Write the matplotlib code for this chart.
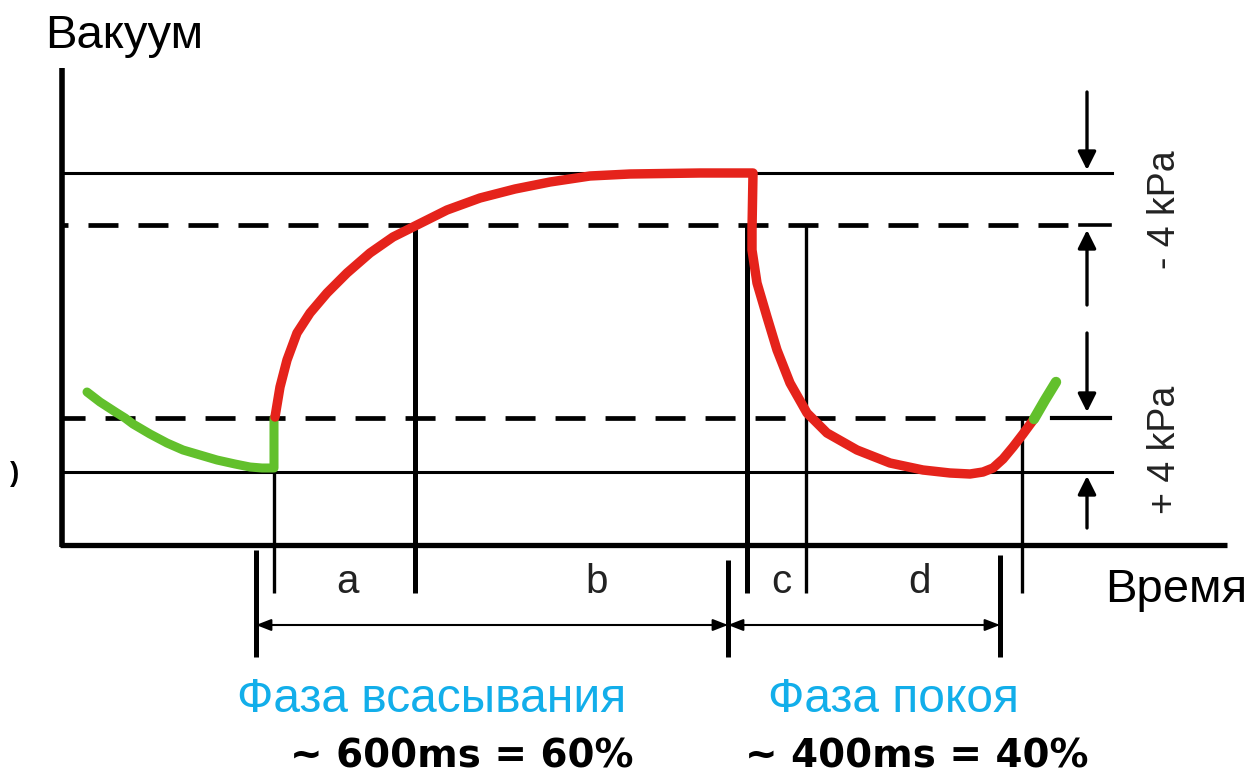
import matplotlib.pyplot as plt

plt.rcParams['lines.scale_dashes'] = False
plt.rcParams['font.family'] = ['Liberation Sans', 'DejaVu Sans']

# diagram units (x = time, y = vacuum level, drawn top-down)
axis_x0, axis_y0 = 62, 545
axis_top, axis_right = 68, 1227

level_max = 173      # solid top line
level_hi = 225       # dashed, -4 kPa
level_lo = 418       # dashed, +4 kPa
level_min = 472      # solid bottom line

# green start (end of previous rest phase)
green_in_x = [87, 100, 117, 125, 133, 150, 167, 183, 200, 217, 235, 250, 262, 274, 274]
green_in_y = [392, 402, 413, 418, 424, 434, 443, 450, 455, 460, 464, 467, 468, 468, 418]

# red: suction then rest
red_x = [275, 280, 287, 297, 310, 327, 347, 370, 393, 413, 447, 480, 515, 550, 590, 630, 700, 753,
         752, 752, 757, 767, 777, 790, 807, 827, 857, 890, 923, 950, 970, 983, 993, 1003, 1013, 1023, 1034]
red_y = [417, 387, 360, 333, 313, 293, 273, 253, 237, 227, 210, 198, 189, 182, 176, 174, 173, 173,
         230, 250, 283, 317, 350, 383, 413, 433, 450, 463, 470, 473, 474, 472, 468, 459, 447, 434, 419]

green_out_x = [1034, 1045, 1056]
green_out_y = [419, 400, 382]

# vertical boundary lines: x, top, width
bound_x = [274, 415, 747, 806, 1022]
bound_top = [level_min, level_hi, level_hi, level_hi, level_lo]
bound_lw = [2.4, 3.6, 3.6, 2.4, 2.4]
bound_bottom = 593

section_labels = ['a', 'b', 'c', 'd']
section_x = [347, 597, 781, 920]

phase_x = [256, 728, 1000]
phase_top = [550, 560, 555]
phase_bottom = 657
arrow_y = 625

phase_names = ['Фаза всасывания', 'Фаза покоя']
phase_name_x = [237, 768]
phase_times = ['~ 600ms = 60%', '~ 400ms = 40%']
phase_time_x = [290, 745]

red = '#E5231B'
green = '#62C02C'
cyan = '#12AEEA'

fig = plt.figure(figsize=(12.53, 7.74), dpi=100)
ax = fig.add_axes([0, 0, 1, 1])
ax.set_xlim(0, 1253)
ax.set_ylim(774, 0)
ax.axis('off')

# axes of the diagram
ax.plot([axis_x0, axis_x0], [axis_top, axis_y0 + 2], color='black', lw=4, solid_capstyle='butt')
ax.plot([axis_x0 - 2, axis_right], [axis_y0, axis_y0], color='black', lw=3.8, solid_capstyle='butt')

# level lines
ax.plot([axis_x0, 1112], [level_max, level_max], color='black', lw=2.2)
ax.plot([axis_x0, 1112], [level_min, level_min], color='black', lw=2.2)
ax.plot([axis_x0, 1068], [level_hi, level_hi], color='black', lw=3.4,
        linestyle=(17.3, (21.6, 14.4)), solid_capstyle='butt', dash_capstyle='butt')
ax.plot([1080, 1110], [level_hi, level_hi], color='black', lw=2.6)
ax.plot([axis_x0, 1032], [level_lo, level_lo], color='black', lw=3.4,
        linestyle=(5.0, (21.6, 14.4)), solid_capstyle='butt', dash_capstyle='butt')
ax.plot([1052, 1110], [level_lo, level_lo], color='black', lw=3.0)

# boundaries of sections a-d
for x, top, lw in zip(bound_x, bound_top, bound_lw):
    ax.plot([x, x], [top, bound_bottom], color='black', lw=lw, solid_capstyle='butt')

# curve
ax.plot(green_in_x, green_in_y, color=green, lw=6.5, solid_capstyle='round', solid_joinstyle='round')
ax.plot(red_x, red_y, color=red, lw=6.8, solid_capstyle='round', solid_joinstyle='round')
ax.plot(green_out_x, green_out_y, color=green, lw=7.5, solid_capstyle='round')

# section letters
for lab, x in zip(section_labels, section_x):
    ax.text(x, 593, lab, fontsize=29, ha='center', va='baseline', color='#222222')

# phase markers and double arrows
for x, top in zip(phase_x, phase_top):
    ax.plot([x, x], [top, phase_bottom], color='black', lw=3.6, solid_capstyle='butt')
for x0, x1 in zip(phase_x[:-1], phase_x[1:]):
    ax.annotate('', xy=(x1, arrow_y), xytext=(x0, arrow_y),
                arrowprops=dict(arrowstyle='<|-|>,head_length=0.9,head_width=0.35',
                                color='black', lw=1.5, shrinkA=0, shrinkB=0))

# tolerance arrows on the right
tol_arrows = [(92, level_max - 3), (305, level_hi + 5), (333, level_lo - 6), (528, level_min + 4)]
for y0, y1 in tol_arrows:
    ax.annotate('', xy=(1087, y1), xytext=(1087, y0),
                arrowprops=dict(arrowstyle='-|>,head_length=1.1,head_width=0.55',
                                color='black', lw=2.4, shrinkA=0, shrinkB=0))

ax.text(1165, 210, '- 4 kPa', fontsize=27, rotation=90, ha='center', va='center', color='#222222')
ax.text(1165, 450, '+ 4 kPa', fontsize=27, rotation=90, ha='center', va='center', color='#222222')

ax.text(45, 48, 'Вакуум', fontsize=34, ha='left', va='baseline', color='black')
ax.text(1105, 602, 'Время', fontsize=34, ha='left', va='baseline', color='black')
ax.text(10, 481, ')', fontsize=20, fontweight='bold', ha='left', va='baseline', color='black')

for name, x in zip(phase_names, phase_name_x):
    ax.text(x, 712, name, fontsize=34.5, ha='left', va='baseline', color=cyan)
for t, x in zip(phase_times, phase_time_x):
    ax.text(x, 768, t, fontsize=28, fontweight='bold', ha='left', va='baseline',
            color='black', family=['DejaVu Sans'])

fig.savefig('out.png', dpi=100)
